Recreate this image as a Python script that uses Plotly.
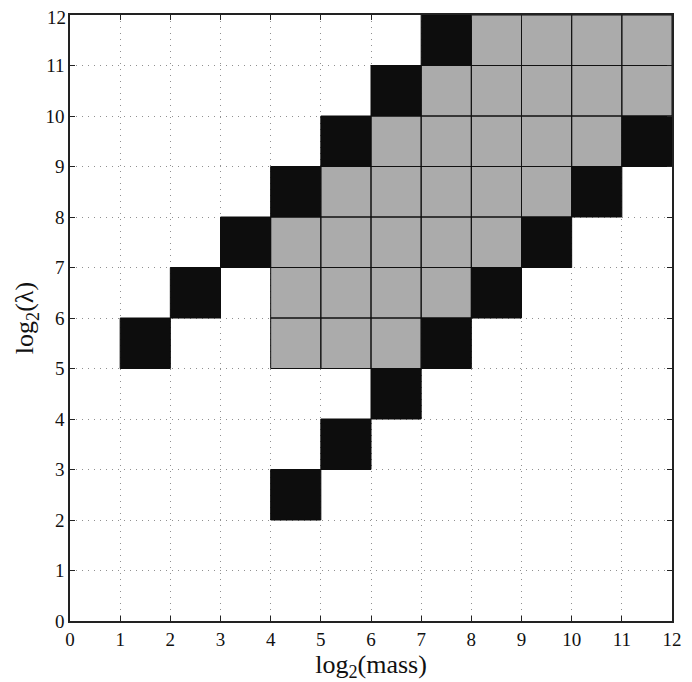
import plotly.graph_objects as go

# Data: lower-left corners of unit cells (log2(mass), log2(lambda))
black_x = [1, 2, 3, 4, 5, 6, 7, 4, 5, 6, 7, 8, 9, 10, 11]
black_y = [5, 6, 7, 8, 9, 10, 11, 2, 3, 4, 5, 6, 7, 8, 9]

gray_rows = {
    5: [4, 5, 6],
    6: [4, 5, 6, 7],
    7: [4, 5, 6, 7, 8],
    8: [5, 6, 7, 8, 9],
    9: [6, 7, 8, 9, 10],
    10: [7, 8, 9, 10, 11],
    11: [8, 9, 10, 11],
}
gray_x = [x for y, xs in gray_rows.items() for x in xs]
gray_y = [y for y, xs in gray_rows.items() for x in xs]

tick_vals = list(range(0, 13))
tick_text = [str(v) for v in tick_vals]


def polys(xs, ys):
    px, py = [], []
    for x, y in zip(xs, ys):
        px += [x, x + 1, x + 1, x, x, None]
        py += [y, y, y + 1, y + 1, y, None]
    return px, py


fig = go.Figure()
gx, gy = polys(gray_x, gray_y)
fig.add_trace(go.Scatter(x=gx, y=gy, mode="lines", fill="toself",
                         fillcolor="#ababab", line=dict(color="#111111", width=1),
                         hoverinfo="skip", showlegend=False))
bx, by = polys(black_x, black_y)
fig.add_trace(go.Scatter(x=bx, y=by, mode="lines", fill="toself",
                         fillcolor="#0d0d0d", line=dict(color="#0d0d0d", width=1),
                         hoverinfo="skip", showlegend=False))

font_family = "Liberation Serif"
tick_font = dict(family=font_family, size=19, color="#111111")
axis_common = dict(
    range=[0, 12], tickvals=tick_vals,
    showgrid=True, gridcolor="#909090", griddash="1px,5px", gridwidth=1,
    zeroline=False, showline=True, linecolor="#222222", linewidth=1.5,
    mirror="ticks", ticks="inside", ticklen=5, tickcolor="#222222",
    tickfont=tick_font, automargin=False,
)

# the top y tick label would be hidden by plotly at the figure edge; draw it as an annotation
y_ticktext = tick_text[:-1] + [""]
fig.add_annotation(x=0, xref="paper", y=tick_vals[-1], yref="y",
                   text=tick_text[-1], showarrow=False, xanchor="right",
                   yanchor="middle", xshift=-2, yshift=-2, font=tick_font)

fig.update_layout(
    width=684, height=674,
    margin=dict(l=62, r=20, t=7, b=61),
    paper_bgcolor="white", plot_bgcolor="white",
    xaxis=dict(**axis_common, ticktext=tick_text,
               title=dict(text="log<sub>2</sub>(mass)", standoff=0,
                          font=dict(family=font_family, size=26, color="#111111"))),
    yaxis=dict(**axis_common, ticktext=y_ticktext,
               title=dict(text="log<sub>2</sub>(λ)", standoff=4,
                          font=dict(family=font_family, size=26, color="#111111"))),
)

fig.write_html("out.html")
